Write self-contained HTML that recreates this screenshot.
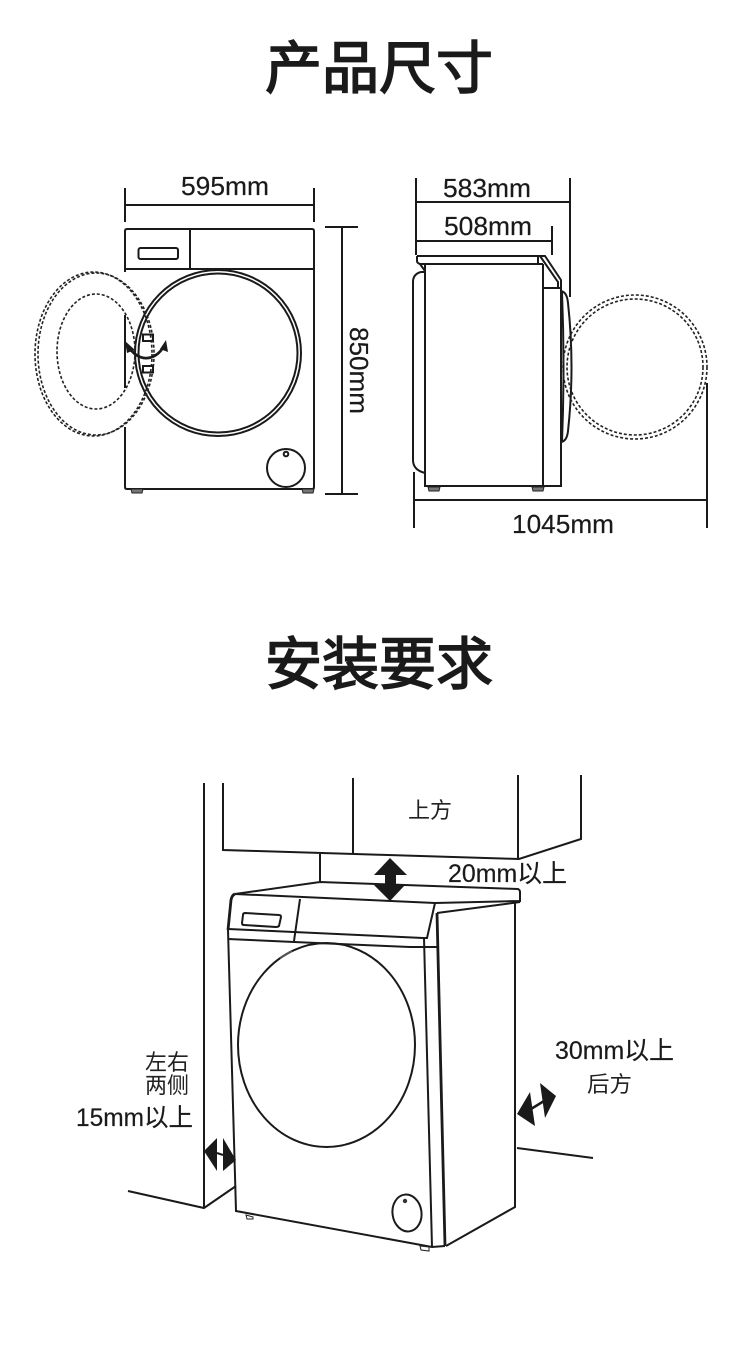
<!DOCTYPE html>
<html lang="zh">
<head>
<meta charset="utf-8">
<title>产品尺寸 安装要求</title>
<style>
html,body{margin:0;padding:0;background:#fff;}
body{width:750px;height:1346px;overflow:hidden;}
svg{display:block;filter:blur(0.3px);}
text{font-family:"Liberation Sans","Noto Sans CJK SC",sans-serif;fill:#1a1a1a;}
.t{font-size:57px;font-weight:400;font-family:"Noto Sans CJK SC","Liberation Sans",sans-serif;stroke:#1a1a1a;stroke-width:1.6;}
.d{font-size:26px;stroke:#1a1a1a;stroke-width:.2;}
.e{font-size:25px;stroke:#1a1a1a;stroke-width:.2;}
.c{font-size:22px;fill:#222;font-family:"Noto Sans CJK SC","Liberation Sans",sans-serif;font-weight:400;}
.l{fill:none;stroke:#1a1a1a;stroke-width:2;}
.b{fill:none;stroke:#1a1a1a;stroke-width:2.8;}
.n{fill:none;stroke:#222;stroke-width:1.6;stroke-dasharray:3 2;}
</style>
</head>
<body>
<svg width="750" height="1346" viewBox="0 0 750 1346" xmlns="http://www.w3.org/2000/svg">
<rect width="750" height="1346" fill="#fff"/>

<text class="t" x="265" y="88" textLength="228" lengthAdjust="spacingAndGlyphs">产品尺寸</text>
<text class="t" x="265" y="684" textLength="228" lengthAdjust="spacingAndGlyphs">安装要求</text>

<!-- Front view -->
<path class="l" d="M125 272V231Q125 229 127 229H312Q314 229 314 231V487Q314 489 312 489H127Q125 489 125 487V427M125 388V315"/>
<path class="l" d="M125 269H314M190 229V269"/>
<rect class="l" x="138.500" y="248" width="39.500" height="11" rx="2"/>
<circle class="l" cx="218" cy="353" r="83"/>
<circle class="l" cx="218" cy="353" r="79.500"/>
<circle class="l" cx="286" cy="468" r="19"/>
<circle class="l" cx="286" cy="454" r="2.300"/>
<path d="M131 489H143L142 493H132ZM302 489H314L313 493H303Z" fill="#777" stroke="#222" stroke-width="1"/>
<ellipse class="n" cx="93.500" cy="354" rx="58.500" ry="82"/>
<ellipse class="n" cx="96" cy="354" rx="58" ry="81"/>
<ellipse class="n" cx="96" cy="351.500" rx="39" ry="57.500"/>
<rect class="l" x="143" y="334.500" width="10" height="6.500"/>
<rect class="l" x="143" y="366" width="10" height="6.500"/>
<path class="b" d="M129 347C138 362 155 362 164 346"/>
<path d="M125 341L135 350L127 353ZM166 340L168 352L160 349Z" fill="#1a1a1a"/>

<!-- Front dimensions -->
<path class="l" d="M125 188V222M314 188V222M125 205H314"/>
<text class="d" x="181" y="195" textLength="88" lengthAdjust="spacingAndGlyphs">595mm</text>
<path class="l" d="M325 227H358M325 494H358M342 227V494"/>
<text class="d" transform="translate(350 327) rotate(90)" x="0" y="0" textLength="87" lengthAdjust="spacingAndGlyphs">850mm</text>

<!-- Side view -->
<path class="l" d="M416 178V255M570 178V297M416 202H570"/>
<path class="l" d="M416 241H552M552 226V255"/>
<text class="d" x="443" y="197" textLength="88" lengthAdjust="spacingAndGlyphs">583mm</text>
<text class="d" x="444" y="235" textLength="88" lengthAdjust="spacingAndGlyphs">508mm</text>
<path class="l" d="M417 256H545L561 280V289M417 256V261Q417 263 420 264H543M420 264L425 271M538 256V264M540 256L558 282V288"/>
<path class="l" d="M425 264V486H543V264M543 288H561V486H543"/>
<path class="l" d="M425 272H421Q413 274 413 282V460Q413 470 425 473"/>
<path class="l" d="M561 291Q567 292 568 303Q575 367 568 431Q567 441 561 442"/>
<path class="l" d="M562 292Q565 367 562 442"/>
<path d="M428 487H440L439 491H429ZM532 487H544L543 491H533Z" fill="#777" stroke="#222" stroke-width="1"/>
<circle class="n" cx="635" cy="367" r="72"/>
<circle class="n" cx="635" cy="367" r="68"/>
<path class="l" d="M414 472V528M707 383V528M414 500H707"/>
<text class="d" x="512" y="533" textLength="102" lengthAdjust="spacingAndGlyphs">1045mm</text>

<!-- Install: wall, floor, cabinet -->
<path class="l" d="M204 783V1208M128 1191L204 1208L236 1186M517 1148L593 1158"/>
<path class="l" d="M223 783V850L519 859L581 839V775M353 778V853M518 775V859M320 854V881"/>

<!-- Washer -->
<path class="l" d="M235 894L320 882L518 889Q520 890 520 892V901L435 903Z"/>
<path class="b" d="M235 894Q232 895 231 900L228 930"/>
<path class="l" d="M228 929L423 938L427 938L435 903M228 939L294 942L410 947L438 947"/>
<path class="l" d="M300 899L294 941"/>
<path class="l" d="M245 913L279 915Q281 915 281 917L279 926Q278 927 276 927L244 925Q242 925 242 923L243 915Q243 913 245 913Z"/>
<path class="l" d="M520 902L437 913"/>
<path class="l" d="M515 903V1207L446 1246M424 938L432 1247"/>
<path class="b" d="M437 913L445 1246"/>
<path class="l" d="M228 930L236 1211L432 1247L445 1246"/>
<ellipse class="l" cx="326.500" cy="1045" rx="88.500" ry="102"/>
<path d="M280 958L292 951" stroke="#555" stroke-width="2"/>
<ellipse class="l" cx="407" cy="1213" rx="14.500" ry="18.500" transform="rotate(-8 407 1213)"/>
<circle cx="405" cy="1201" r="2.200" fill="#333"/>
<path d="M246 1215L253 1217V1219H247ZM420 1246L429 1247V1251L421 1250Z" fill="#fff" stroke="#222" stroke-width="1"/>

<!-- Arrows -->
<path d="M390 858L407 875H396V885H405L390 901L374 885H385V875H374Z" fill="#1a1a1a"/>
<path d="M204 1151L217 1138L217 1171ZM236 1160L223 1138L223 1171Z" fill="#1a1a1a"/>
<path d="M217 1153L223 1155" stroke="#1a1a1a" stroke-width="2"/>
<path d="M517 1114L530 1092L535 1126ZM556 1096L540 1083L545 1118Z" fill="#1a1a1a"/>
<path d="M531 1109L544 1101" stroke="#1a1a1a" stroke-width="2.500"/>

<!-- Labels -->
<text class="c" x="408" y="818" textLength="44" lengthAdjust="spacingAndGlyphs">上方</text>
<text class="e" x="448" y="882" textLength="119" lengthAdjust="spacingAndGlyphs">20mm以上</text>
<text class="c" x="145" y="1070" textLength="44" lengthAdjust="spacingAndGlyphs">左右</text>
<text class="c" x="145" y="1093" textLength="44" lengthAdjust="spacingAndGlyphs">两侧</text>
<text class="e" x="76" y="1126" textLength="117" lengthAdjust="spacingAndGlyphs">15mm以上</text>
<text class="e" x="555" y="1059" textLength="119" lengthAdjust="spacingAndGlyphs">30mm以上</text>
<text class="c" x="587" y="1092" textLength="45" lengthAdjust="spacingAndGlyphs">后方</text>
</svg>
</body>
</html>
